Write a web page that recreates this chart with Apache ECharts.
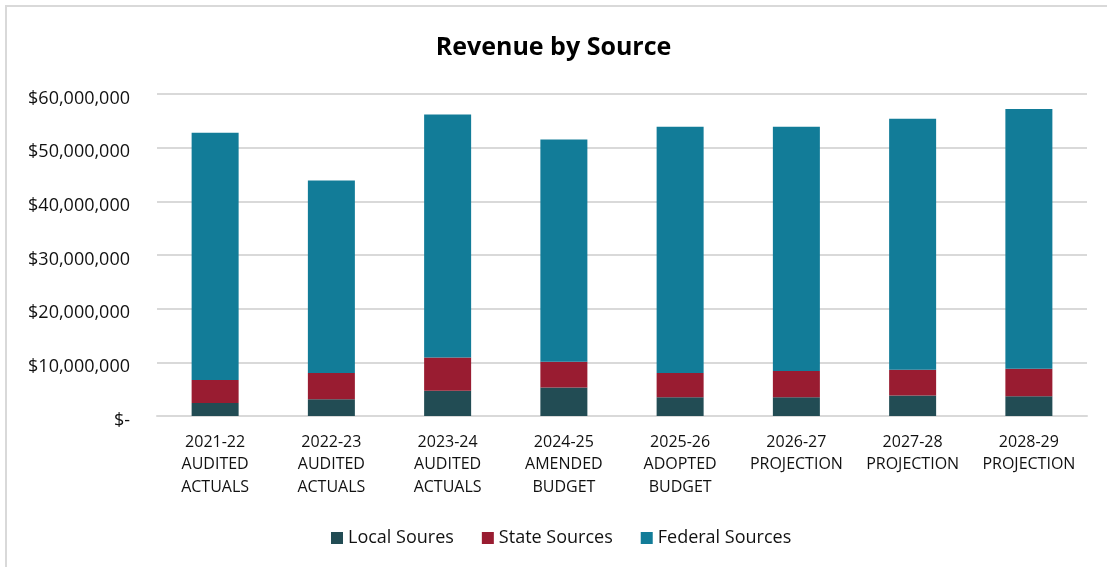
<!DOCTYPE html>
<html>
<head>
<meta charset="utf-8">
<script src="https://cdn.jsdelivr.net/npm/echarts@6/dist/echarts.min.js"></script>
<style>
  html, body { margin: 0; padding: 0; background: #fff; overflow: hidden; }
  #frame { position: absolute; left: 5px; top: 5px; width: 1120px; height: 580px;
           border: 2px solid #d9d9d9; box-sizing: border-box; }
  #chart { position: absolute; left: 0; top: 0; width: 1107px; height: 567px; }
</style>
</head>
<body>
<div id="frame"></div>
<div id="chart"></div>
<script>
// Fiscal years and their status
const categories = [
  '2021-22\nAUDITED\nACTUALS',
  '2022-23\nAUDITED\nACTUALS',
  '2023-24\nAUDITED\nACTUALS',
  '2024-25\nAMENDED\nBUDGET',
  '2025-26\nADOPTED\nBUDGET',
  '2026-27\nPROJECTION',
  '2027-28\nPROJECTION',
  '2028-29\nPROJECTION'
];

// Revenue by source, dollars
const localSources   = [2400000, 3100000, 4700000, 5300000, 3500000, 3500000, 3800000, 3700000];
const stateSources   = [4300000, 4900000, 6200000, 4800000, 4500000, 4900000, 4800000, 5100000];
const federalSources = [46100000, 35900000, 45300000, 41400000, 45900000, 45500000, 46800000, 48400000];

const seriesNames = ['Local Soures', 'State Sources', 'Federal Sources'];
const seriesColors = ['#224C54', '#991C31', '#127C98'];

const yMin = 0, yMax = 60000000, yStep = 10000000;

const FONT = '"Open Sans", sans-serif';

function money(v) {
  const text = v === 0 ? '$-' : '$' + v.toLocaleString('en-US');
  return '{v|' + text + '}';
}

const chart = echarts.init(document.getElementById('chart'), null, { renderer: 'canvas' });

const seriesData = [localSources, stateSources, federalSources];

chart.setOption({
  animation: false,
  backgroundColor: 'transparent',
  title: {
    text: 'Revenue by Source',
    left: 'center',
    top: 35,
    padding: 0,
    textStyle: { fontFamily: FONT, fontSize: 25, fontWeight: 'bold', color: '#000' }
  },
  legend: {
    data: seriesNames,
    left: 326,
    top: 524,
    itemWidth: 12,
    itemHeight: 12,
    itemGap: 28,
    icon: 'rect',
    textStyle: { fontFamily: FONT, fontSize: 18, color: '#111' }
  },
  grid: { left: 157, right: 20, top: 94, bottom: 151 },
  xAxis: {
    type: 'category',
    data: categories,
    axisTick: { show: false },
    axisLine: { lineStyle: { color: '#d9d9d9', width: 2 } },
    axisLabel: {
      fontFamily: FONT, fontSize: 16, color: '#111',
      lineHeight: 22.5, margin: 15, interval: 0
    }
  },
  yAxis: {
    type: 'value',
    min: yMin, max: yMax, interval: yStep,
    axisLine: { show: false },
    axisTick: { show: false },
    splitLine: { lineStyle: { color: '#d9d9d9', width: 2 } },
    axisLabel: {
      margin: 27,
      formatter: money,
      rich: {
        v: { fontFamily: FONT, fontSize: 18, color: '#111', padding: [9, 0, 0, 0] }
      }
    }
  },
  series: seriesNames.map((name, i) => ({
    name: name,
    type: 'bar',
    stack: 'revenue',
    barWidth: 47,
    itemStyle: { color: seriesColors[i] },
    data: seriesData[i]
  }))
});
</script>
</body>
</html>
